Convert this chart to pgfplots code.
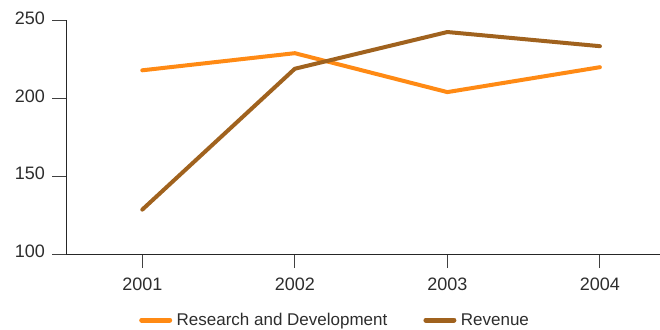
\documentclass[border=0pt]{standalone}
\usepackage{pgfplots}
\pgfplotsset{compat=1.18}
\usepackage{fontspec}
\setmainfont{Liberation Sans}

\definecolor{rdorange}{RGB}{255,138,20}
\definecolor{revbrown}{RGB}{160,98,30}
\definecolor{txtgray}{RGB}{45,45,45}

\begin{document}
\begin{tikzpicture}
\useasboundingbox (0,0) rectangle (660bp,330bp);
\begin{axis}[
  scale only axis,
  width=594bp, height=233.5bp,
  at={(66bp,76bp)}, anchor=south west,
  xmin=2000.5, xmax=2004.394,
  ymin=100, ymax=250,
  axis x line*=bottom, axis y line*=left,
  axis line style={line width=0.9bp, color=black!85},
  xtick={2001,2002,2003,2004},
  ytick={100,150,200,250},
  tick align=outside,
  major tick length=14bp,
  tick style={line width=0.9bp, color=black!75},
  x tick label style={/pgf/number format/1000 sep={}, yshift=-6bp},
  y tick label style={xshift=-3.5bp, yshift=2.5bp},
  tick label style={font=\fontsize{18bp}{21bp}\selectfont, text=txtgray},
  /pgf/number format/assume math mode=true,
  every axis plot/.append style={line width=4bp, line cap=round, line join=round},
  legend columns=2,
  legend style={at={(rel axis cs:0.1229,-0.2827)}, anchor=west, draw=none,
    fill=none, inner sep=0pt, font=\fontsize{17bp}{20bp}\selectfont,
    text=txtgray,
    /tikz/every even column/.append style={column sep=34bp}},
  legend image code/.code={\draw[#1, line width=5bp] (0bp,0bp) -- (28bp,0bp);
    \path (31bp,0bp);},
]
\addplot[color=rdorange] coordinates {(2001,218) (2002,229) (2003,204) (2004,220)};
\addlegendentry{Research and Development}
\addplot[color=revbrown] coordinates {(2001,128.5) (2002,219) (2003,242.6) (2004,233.5)};
\addlegendentry{Revenue}
\end{axis}
\end{tikzpicture}
\end{document}
